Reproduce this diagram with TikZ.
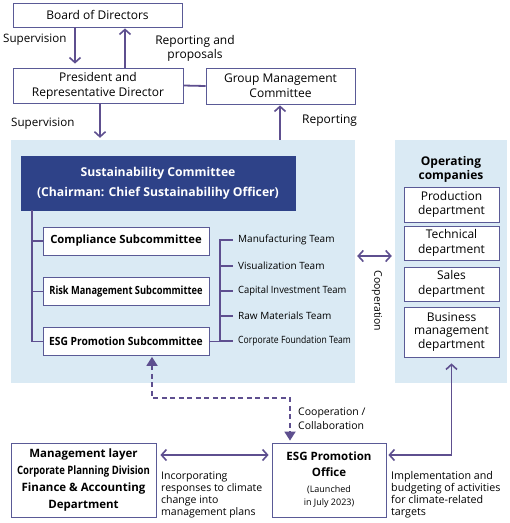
\documentclass[tikz,border=0pt]{standalone}
\usepackage{fontspec}
\usepackage{graphicx}
\setmainfont{Open Sans}
\usetikzlibrary{arrows.meta}
\definecolor{arr}{HTML}{5E4F8F}
\definecolor{bord}{HTML}{5A5A96}
\definecolor{navy}{HTML}{2E4288}
\definecolor{panel}{HTML}{DAEAF4}
\begin{document}
\begin{tikzpicture}[x=1pt,y=-1pt,
  font=\fontsize{12}{14}\selectfont,
  box/.style={draw=bord, line width=0.8pt, fill=white, align=center, inner sep=0pt},
  pnl/.style={fill=panel, draw=none, inner sep=0pt},
  conn/.style={draw=arr, line width=1.8pt},
  tree/.style={draw=arr, line width=1.5pt},
  chev/.style={-{Straight Barb[length=5pt,width=11pt,line width=1.6pt]}},
  chevb/.style={{Straight Barb[length=5pt,width=11pt,line width=1.6pt]}-{Straight Barb[length=5pt,width=11pt,line width=1.6pt]}},
  lbl/.style={inner sep=0pt, align=left},
  team/.style={inner sep=0pt, anchor=west, font=\fontsize{10}{12}\selectfont},
  subc/.style={box, minimum width=166pt, minimum height=28pt, font=\fontsize{11.3}{13}\selectfont\bfseries},
  dept/.style={box, minimum width=95pt, font=\fontsize{12}{14.5}\selectfont}
]
\useasboundingbox (0,0) rectangle (510,523);

% top boxes
\node[box, minimum width=169pt, minimum height=24pt] (board) at (97.5,15) {Board of Directors};
\node[box, minimum width=170pt, minimum height=35pt, font=\fontsize{12}{15}\selectfont] (pres) at (98,85.5) {President and\\Representative Director};
\node[box, minimum width=149pt, minimum height=36pt, font=\fontsize{12}{15}\selectfont] (gmc) at (280.5,86) {Group Management\\Committee};

% panels
\node[pnl, minimum width=344pt, minimum height=243pt] (lpanel) at (183,261.5) {};
\node[pnl, minimum width=112pt, minimum height=243pt] (rpanel) at (451,261.5) {};

% top connectors
\draw[conn, chev, shorten >=4pt] (board.south -| 75,0) -- (pres.north -| 75,0);
\draw[conn, chev, shorten >=1pt] (pres.north -| 125,0) -- (board.south -| 125,0);
\draw[conn] (pres.east) -- (gmc.west);
\draw[conn, chev, shorten >=2pt] (pres.south -| 100,0) -- (lpanel.north -| 100,0);
\draw[conn, chev, shorten >=1pt] (lpanel.north -| 280,0) -- (gmc.south -| 280,0);

\node[lbl, anchor=west, font=\fontsize{11.6}{14}\selectfont] (l1) at (3,40) {Supervision};
\node[lbl, align=center, font=\fontsize{12}{13.5}\selectfont] (l2) at (195,48.5) {Reporting and\\proposals};
\node[lbl, anchor=west, font=\fontsize{11.6}{14}\selectfont] (l3) at (11,124) {Supervision};
\node[lbl, anchor=west] (l4) at (302,121) {Reporting};

% sustainability committee
\node[fill=navy, draw=navy, minimum width=274pt, minimum height=54pt, inner sep=0pt, text=white, align=center,
  font=\fontsize{12.2}{20}\selectfont\bfseries] (sc) at (158,183) {Sustainability Committee\\(Chairman: Chief Sustainabilihy Officer)};

\node[subc] (comp) at (126,241) {Compliance Subcommittee};
\node[subc] (risk) at (126,291.5) {\scalebox{0.82}[1]{Risk Management Subcommittee}};
\node[subc] (esgs) at (126,341.5) {\scalebox{0.91}[1]{ESG Promotion Subcommittee}};

\draw[tree] (sc.south -| 32,0) |- (esgs.west);
\draw[tree] (sc.south -| 32,0) |- (comp.west);
\draw[tree] (sc.south -| 32,0) |- (risk.west);

% teams
\node[team] (t1) at (238,240) {Manufacturing Team};
\node[team] (t2) at (238,266) {Visualization Team};
\node[team] (t3) at (238,291) {\scalebox{0.94}[1]{Capital Investment Team}};
\node[team] (t4) at (238,316) {Raw Materials Team};
\node[team] (t5) at (238,341) {\scalebox{0.86}[1]{Corporate Foundation Team}};
\draw[tree] (t1.west -| 220,0) -- (t5.west -| 220,0);
\draw[tree] (esgs.east) -- (esgs.east -| 220,0);
\foreach \t in {t1,t2,t3,t4,t5}{
  \draw[tree] (\t.west -| 219.25,0) -- ([xshift=-5pt]\t.west);
}

% cooperation
\draw[conn, chevb, shorten <=2pt, shorten >=3pt] (lpanel.east |- 0,256) -- (rpanel.west |- 0,256);
\node[lbl, rotate=-90, font=\fontsize{10.5}{12}\selectfont] (coop) at (377,301) {Cooperation};

% operating companies
\node[inner sep=0pt, align=center, font=\fontsize{12}{14}\selectfont\bfseries] (opc) at (451,169.5) {Operating\\companies};
\node[dept, minimum height=35pt] (prod) at (451.5,204.5) {Production\\department};
\node[dept, minimum height=34pt] (tech) at (451.5,243) {Technical\\department};
\node[dept, minimum height=34pt] (sales) at (451.5,284) {Sales\\department};
\node[dept, minimum height=50pt, font=\fontsize{12}{13.5}\selectfont] (bus) at (451.5,332) {Business\\management\\department};

% bottom boxes
\node[box, minimum width=145pt, minimum height=74pt, font=\fontsize{11.5}{17}\selectfont\bfseries] (mgmt) at (83.5,480.5)
  {Management layer\\\scalebox{0.83}[1]{Corporate Planning Division}\\Finance \& Accounting\\Department};
\node[box, minimum width=114pt, minimum height=74pt, font=\fontsize{9}{16}\selectfont] (esgo) at (329,480)
  {{\fontsize{11.5}{16}\selectfont\bfseries ESG Promotion}\\
   {\fontsize{11.5}{16}\selectfont\bfseries Office}\\
   (Launched\\[-3pt]
   in July 2023)};

\draw[conn, chevb, shorten <=4pt, shorten >=3pt] (mgmt.east |- 0,455) -- (esgo.west |- 0,455);

\coordinate (d1) at (152,398);
\coordinate (d2) at (290,398);
\draw[draw=arr, line width=1.8pt, dash pattern=on 5pt off 3.5pt,
  {Triangle[length=9pt,width=11pt]}-{Triangle[length=9pt,width=11pt]}, shorten <=1pt, shorten >=2pt]
  (esgs.south -| d1) -- (d1) -- (d2) -- (esgo.north -| d2);

\draw[conn, chevb, shorten <=2pt, shorten >=6pt] (esgo.east |- 0,455) -| (bus.south);

\node[lbl, anchor=west, font=\fontsize{10.5}{14}\selectfont] (cc) at (298,419) {Cooperation /\\Collaboration};
\node[lbl, anchor=west, font=\fontsize{10.5}{12}\selectfont] (inc) at (161,495) {Incorporating\\responses to climate\\change into\\management plans};
\node[lbl, anchor=west, font=\fontsize{10.7}{12}\selectfont] (imp) at (391,495) {Implementation and\\budgeting of activities\\for climate-related\\targets};
\end{tikzpicture}
\end{document}
